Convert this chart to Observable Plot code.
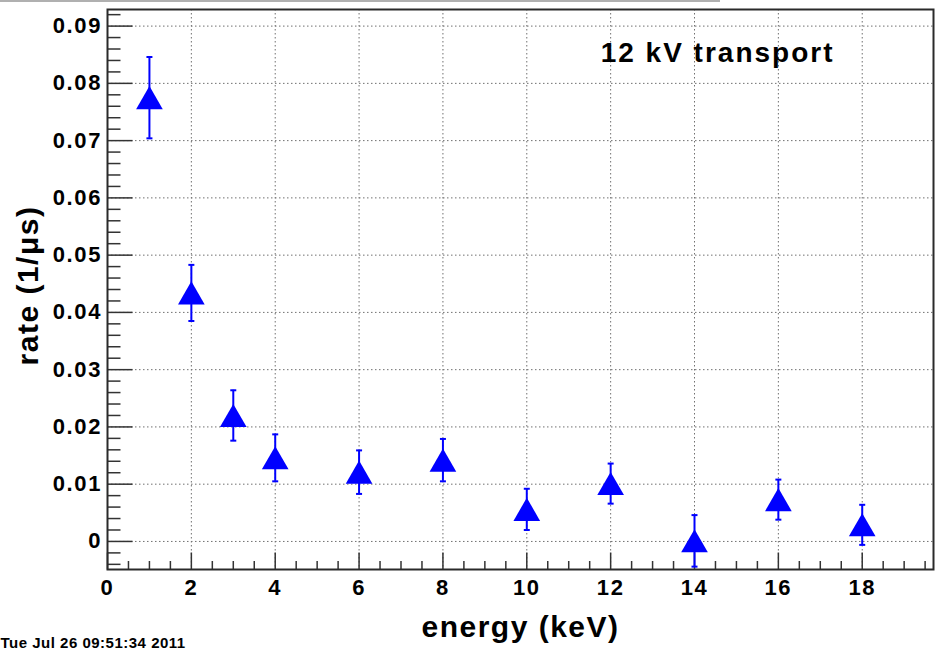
<!DOCTYPE html>
<html><head><meta charset="utf-8">
<script src="https://cdn.jsdelivr.net/npm/d3@7"></script>
<script src="https://cdn.jsdelivr.net/npm/@observablehq/plot@0.6"></script>
<style>
body{margin:0;background:#fff;}
#wrap{position:relative;width:939px;height:653px;overflow:hidden;}
#edge{position:absolute;left:0;top:0;width:720px;height:2px;background:#b0b0b0;}
</style>
</head><body><div id="wrap"><div id="edge"></div><div id="chart"></div></div>
<script>
// data
const energy = [1, 2, 3, 4, 6, 8, 10, 12, 14, 16, 18];
const rate   = [0.0775, 0.0434, 0.0220, 0.0146, 0.0121, 0.0142, 0.0056, 0.0101, 0.0001, 0.0073, 0.0029];
const rateErr= [0.0071, 0.0049, 0.0044, 0.0041, 0.0038, 0.0037, 0.0036, 0.0035, 0.0045, 0.0035, 0.0035];

const xTicks = [0, 2, 4, 6, 8, 10, 12, 14, 16, 18];
const yTicks = [0, 0.01, 0.02, 0.03, 0.04, 0.05, 0.06, 0.07, 0.08, 0.09];
const yTickLabels = ["0", "0.01", "0.02", "0.03", "0.04", "0.05", "0.06", "0.07", "0.08", "0.09"];
const xMinor = d3.range(0.5, 19.7, 0.5).filter(v => Math.abs(v / 2 - Math.round(v / 2)) > 1e-6);
const yMinor = d3.range(-0.004, 0.0929, 0.002).filter(v => Math.abs(v * 100 - Math.round(v * 100)) > 1e-6);

const xLabel = ["energy (keV)"];
const yLabel = ["rate (1/\u03bcs)"];
const annotation = ["12 kV transport"];
const stamp = ["Tue Jul 26 09:51:34 2011"];

const pts = energy.map((x, i) => ({x, y: rate[i], e: rateErr[i]}));

const blue = "#0000ff";
const hline = w => ({draw(ctx) { ctx.moveTo(-w / 2, 0); ctx.lineTo(w / 2, 0); }});
const tickRight = L => ({draw(ctx) { ctx.moveTo(0, 0); ctx.lineTo(L, 0); }});
const tickUp = L => ({draw(ctx) { ctx.moveTo(0, 0); ctx.lineTo(0, -L); }});
const bold = {fontWeight: "bold", fill: "#000"};

const chart = Plot.plot({
  width: 939,
  height: 653,
  marginLeft: 107,
  marginRight: 6,
  marginTop: 9,
  marginBottom: 84,
  style: {fontFamily: "'Liberation Sans', Arial, Helvetica, sans-serif", color: "#000", background: "#fff"},
  x: {domain: [0, 19.7]},
  y: {domain: [-0.0049, 0.0929]},
  marks: [
    Plot.gridX(xTicks.filter(d => d > 0), {stroke: "#707070", strokeOpacity: 1, strokeWidth: 1, strokeDasharray: "1.5,2.5"}),
    Plot.gridY(yTicks, {stroke: "#707070", strokeOpacity: 1, strokeWidth: 1, strokeDasharray: "1.5,2.5"}),
    // inward ticks
    Plot.dot(yTicks, {y: d => d, frameAnchor: "left", symbol: tickRight(25), stroke: "#333", strokeWidth: 1.5, fill: "none"}),
    Plot.dot(yMinor, {y: d => d, frameAnchor: "left", symbol: tickRight(13), stroke: "#333", strokeWidth: 1.5, fill: "none"}),
    Plot.dot(xTicks, {x: d => d, frameAnchor: "bottom", symbol: tickUp(17), stroke: "#333", strokeWidth: 1.5, fill: "none"}),
    Plot.dot(xMinor, {x: d => d, frameAnchor: "bottom", symbol: tickUp(8.5), stroke: "#333", strokeWidth: 1.5, fill: "none"}),
    Plot.frame({stroke: "#2a2a2a", strokeWidth: 2}),
    Plot.axisX(xTicks, {tickSize: 0, tickPadding: 10, fontSize: 22, ...bold, label: null}),
    Plot.axisY(yTicks, {tickSize: 0, tickPadding: 5.5, fontSize: 22, ...bold, label: null,
      tickFormat: d => yTickLabels[yTicks.indexOf(d)]}),
    // error bars
    Plot.ruleX(pts, {x: "x", y1: d => d.y - d.e, y2: d => d.y + d.e, stroke: blue, strokeWidth: 2}),
    Plot.dot(pts, {x: "x", y: d => d.y + d.e, symbol: hline(6), stroke: blue, strokeWidth: 2, fill: "none"}),
    Plot.dot(pts, {x: "x", y: d => d.y - d.e, symbol: hline(6), stroke: blue, strokeWidth: 2, fill: "none"}),
    // markers
    Plot.dot(pts, {x: "x", y: "y", symbol: "triangle", r: 9.9, fill: blue, stroke: "none", dy: 3.8}),
    // labels
    Plot.text(xLabel, {text: d => d, frameAnchor: "bottom", textAnchor: "middle", lineAnchor: "middle", dy: 58, fontSize: 30, ...bold}),
    Plot.text(yLabel, {text: d => d, frameAnchor: "left", textAnchor: "middle", lineAnchor: "middle", dx: -79, dy: -4, rotate: -90, fontSize: 30, ...bold}),
    Plot.text(annotation, {text: d => d, frameAnchor: "top-right", textAnchor: "end", lineAnchor: "middle", dx: -99, dy: 44, fontSize: 28, ...bold}),
    Plot.text(stamp, {text: d => d, frameAnchor: "bottom-left", textAnchor: "start", lineAnchor: "middle", dx: -107, dy: 74, fontSize: 15, ...bold})
  ]
});
document.getElementById("chart").appendChild(chart);
// widen glyph spacing to match the reference's wider lettering
const spacing = {22: 1.6, 30: 1.5, 28: 2, 15: 0.5};
d3.select(chart).selectAll("text").each(function() {
  const fs = Math.round(parseFloat(getComputedStyle(this).fontSize));
  if (spacing[fs] != null) this.style.letterSpacing = spacing[fs] + "px";
});
</script>
</body></html>
